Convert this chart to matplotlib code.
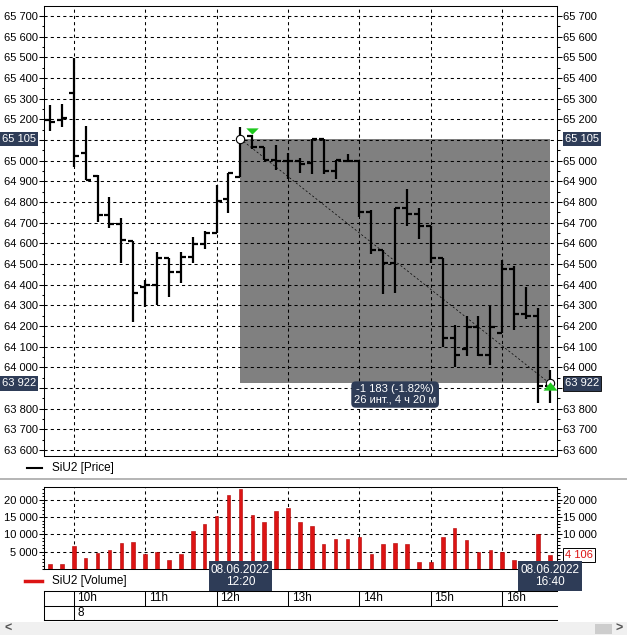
import matplotlib
matplotlib.use("Agg")
import matplotlib.pyplot as plt
from matplotlib.ticker import FixedLocator, MultipleLocator, FuncFormatter
from matplotlib.transforms import blended_transform_factory as blend
from matplotlib.patches import Rectangle
from matplotlib.path import Path

plt.rcParams['font.family'] = ['Liberation Sans', 'DejaVu Sans']
plt.rcParams['font.size'] = 8

# ---------------- data (10-minute bars, SiU2) ----------------
bar_open = [65197, 65197, 65326, 65039, 64927, 64735, 64694, 64611, 64390, 64397,
            64529, 64463, 64535, 64597, 64652, 64813, 64920, 65121, 65065, 65003,
            65000, 65000, 64987, 65103, 64952, 65000, 65000, 64753, 64568, 64503,
            64769, 64742, 64684, 64529, 64140, 64087, 64197, 64060, 64165, 64474,
            64256, 64248, 63910]
bar_high = [65269, 65274, 65495, 65169, 64932, 64826, 64721, 64611, 64423, 64556,
            64529, 64556, 64629, 64661, 64882, 64939, 65161, 65124, 65065, 65076,
            65035, 65011, 65103, 65103, 65003, 65032, 65003, 64761, 64568, 64769,
            64861, 64769, 64684, 64529, 64205, 64250, 64250, 64300, 64519, 64490,
            64390, 64286, 63987]
bar_low = [65145, 65161, 64968, 64905, 64705, 64673, 64506, 64221, 64294, 64302,
           64342, 64410, 64506, 64571, 64652, 64748, 64920, 65055, 65003, 64955,
           64910, 64939, 64935, 64935, 64910, 65000, 64729, 64550, 64355, 64360,
           64684, 64622, 64503, 64100, 64003, 64055, 64055, 64011, 64165, 64180,
           64232, 63826, 63826]
bar_close = [65185, 65208, 65023, 64905, 64739, 64694, 64615, 64361, 64397, 64529,
             64463, 64535, 64597, 64652, 64805, 64939, 65105, 65065, 65003, 65000,
             65000, 64984, 65103, 64952, 65003, 65000, 64753, 64568, 64503, 64769,
             64742, 64684, 64529, 64140, 64058, 64197, 64060, 64197, 64474, 64256,
             64248, 63910, 63922]
volume = [1540, 1540, 6650, 3180, 4720, 5490, 7610, 7900, 4340, 4910,
          2700, 4430, 10980, 13000, 15320, 21390, 23220, 15610, 13680, 16760,
          17530, 13580, 12520, 7130, 8770, 8770, 9350, 4430, 7130, 7610,
          7320, 2120, 2120, 9150, 11750, 8480, 4820, 5590, 5010, 2600,
          2120, 10020, 4106]

hour_labels = ['10h', '11h', '12h', '13h', '14h', '15h', '16h']
hour_index = [2, 8, 14, 20, 26, 32, 38]
day_labels = ['8']
day_index = [2]
bar_times = {16: '08.06.2022\n12:20', 42: '08.06.2022\n16:40'}
sel_start, sel_end = 16, 42
bar_minutes = 10

# ---------------- layout ----------------
W, H = 627, 635
fig = plt.figure(figsize=(W / 100, H / 100), dpi=100)
fig.patch.set_facecolor('white')


def rect(x0, y0, x1, y1):
    return [x0 / W, 1 - y1 / H, (x1 - x0) / W, (y1 - y0) / H]


def fmt(v):
    return f"{int(round(v)):,}".replace(",", " ")


NAVY = '#2e3c57'
RED = '#dc1414'
GREEN = '#1ec81e'
n = len(bar_open)
xs = list(range(n))
XLIM = (-0.5, 42.6)
grid_kw = dict(color='black', linestyle=(0, (3, 3)), linewidth=0.75)

p0 = bar_close[sel_start]
p1 = bar_close[sel_end]

# ---------------- price panel ----------------
ax1 = fig.add_axes(rect(44, 6, 557, 456))
ax1.set_xlim(*XLIM)
ax1.set_ylim(63571, 65748)
ax1.yaxis.set_major_locator(MultipleLocator(100))
ax1.yaxis.set_minor_locator(MultipleLocator(50))
ax1.yaxis.set_major_formatter(FuncFormatter(
    lambda v, p: '' if min(abs(v - p0), abs(v - p1)) < 30 else fmt(v)))
ax1.xaxis.set_major_locator(FixedLocator(hour_index))
ax1.tick_params(axis='x', length=0, labelbottom=False)
ax1.tick_params(axis='y', which='major', direction='out', length=3.6, width=0.75,
                left=True, right=True, labelleft=True, labelright=True, pad=0.8,
                labelsize=8)
ax1.tick_params(axis='y', which='minor', direction='out', length=1.8, width=0.75,
                left=True, right=True)
ax1.grid(True, which='major', **grid_kw)
for s in ax1.spines.values():
    s.set_linewidth(0.75)

# selection rectangle
ax1.add_patch(Rectangle((sel_start, p1), sel_end - sel_start, p0 - p1,
                        facecolor='#808080', edgecolor='none', zorder=1))
ax1.plot([sel_start, sel_end], [p0, p1], color='black', lw=0.5,
         linestyle=(0, (3, 3)), zorder=2.5)

# OHLC bars
tick = 0.42
ax1.vlines(xs, bar_low, bar_high, color='black', lw=1.6, zorder=3)
ax1.hlines(bar_open, [x - tick for x in xs], xs, color='black', lw=1.6, zorder=3)
ax1.hlines(bar_close, xs, [x + tick for x in xs], color='black', lw=1.6, zorder=3)

# markers
flat_down = Path([(-1, 0.5), (1, 0.5), (0, -0.5), (-1, 0.5)])
flat_up = Path([(-1, -0.6), (1, -0.6), (0, 0.6), (-1, -0.6)])
ax1.plot([sel_start], [p0], marker='o', ms=6, mfc='white', mec='black', mew=0.8, zorder=5)
ax1.plot([sel_end], [p1], marker='o', ms=6, mfc='white', mec='black', mew=0.8, zorder=5)
ax1.plot([sel_start + 1], [bar_high[sel_start + 1] + 20], marker=flat_down, ms=9,
         color=GREEN, mew=0, zorder=6)
ax1.plot([sel_end], [p1 - 12], marker=flat_up, ms=10, color=GREEN, mew=0, zorder=6)

# price tags on axes
bl = blend(ax1.transAxes, ax1.transData)
for p in (p0, p1):
    ax1.text(-8 / 513, p, fmt(p), transform=bl, ha='right', va='center', color='white',
             fontsize=8, bbox=dict(boxstyle='square,pad=0.2', fc=NAVY, ec='none'),
             clip_on=False, zorder=10)
ax1.text(1 + 8 / 513, p0, fmt(p0), transform=bl, ha='left', va='center', color='white',
         fontsize=8, bbox=dict(boxstyle='square,pad=0.2', fc=NAVY, ec='none'),
         clip_on=False, zorder=10)
ax1.text(1 + 8 / 513, p1, fmt(p1), transform=bl, ha='left', va='center', color='white',
         fontsize=8, bbox=dict(boxstyle='square,pad=0.2', fc=NAVY, ec='black', lw=0.6),
         clip_on=False, zorder=10)

# selection info tooltip
chg = p1 - p0
pct = chg / p0 * 100
nb = sel_end - sel_start
mins = nb * bar_minutes
info = f"{fmt(chg)} ({pct:.2f}%)\n{nb} инт., {mins // 60} ч {mins % 60} м"
ax1.annotate(info, xy=((sel_start + sel_end) / 2, p1), xytext=(0, -8),
             textcoords='offset points', ha='center', va='center', color='white',
             fontsize=8, linespacing=1.1, zorder=10,
             bbox=dict(boxstyle='round,pad=0.25,rounding_size=0.4', fc=NAVY, ec='none'))

# ---------------- volume panel ----------------
ax2 = fig.add_axes(rect(44, 486.7, 557, 569))
ax2.set_xlim(*XLIM)
ax2.set_ylim(0, 23786)
ax2.yaxis.set_major_locator(FixedLocator([5000, 10000, 15000, 20000]))
ax2.yaxis.set_minor_locator(MultipleLocator(1000))
ax2.yaxis.set_major_formatter(FuncFormatter(lambda v, p: fmt(v)))
ax2.xaxis.set_major_locator(FixedLocator(hour_index))
ax2.tick_params(axis='x', length=0, labelbottom=False)
ax2.tick_params(axis='y', which='major', direction='out', length=3.6, width=0.75,
                left=True, right=True, labelleft=True, labelright=True, pad=0.8,
                labelsize=8)
ax2.tick_params(axis='y', which='minor', direction='out', length=1.8, width=0.75,
                left=True, right=True)
ax2.grid(True, which='major', **grid_kw)
for s in ax2.spines.values():
    s.set_linewidth(0.75)
ax2.bar(xs, volume, width=0.3, color=RED, edgecolor='#b00000', linewidth=0.4, zorder=3)
fig.canvas.draw()
for t, v in zip(ax2.yaxis.get_major_ticks(), ax2.get_yticks()):
    if abs(v - volume[-1]) < 1500:
        t.label2.set_visible(False)
ax2.text(1 + 8 / 513, volume[-1], fmt(volume[-1]), transform=blend(ax2.transAxes, ax2.transData),
         ha='left', va='center', color=RED, fontsize=8,
         bbox=dict(boxstyle='square,pad=0.2', fc='white', ec='black', lw=0.7), clip_on=False)

# ---------------- time table ----------------
ax3 = fig.add_axes(rect(44, 590.7, 557, 620.3))
ax3.set_xlim(*XLIM)
ax3.set_ylim(2, 0)
ax3.axis('off')
for yy in (0, 1, 2):
    ax3.plot([0, 1], [yy, yy], transform=blend(ax3.transAxes, ax3.transData),
             color='black', lw=0.75, clip_on=False)
ax3.plot([0, 0], [0, 2], transform=blend(ax3.transAxes, ax3.transData),
         color='black', lw=0.75, clip_on=False)
ax3.vlines(hour_index, 0, 1, color='black', lw=0.75)
ax3.vlines(day_index, 1, 2, color='black', lw=0.75)
for hx, lab in zip(hour_index, hour_labels):
    ax3.text(hx + 0.3, 0.5, lab, ha='left', va='center', fontsize=8.5)
for dx, lab in zip(day_index, day_labels):
    ax3.text(dx + 0.3, 1.5, lab, ha='left', va='center', fontsize=8.5)

# ---------------- overlay (pixel coords) ----------------
ov = fig.add_axes([0, 0, 1, 1])
ov.set_xlim(0, W)
ov.set_ylim(H, 0)
ov.axis('off')
ov.patch.set_visible(False)
ov.set_zorder(10)
ov.plot([27, 42], [468, 468], color='black', lw=1.5)
ov.text(52, 468, 'SiU2 [Price]', va='center', ha='left', fontsize=8.5)
ov.plot([0, W], [479, 479], color='#a8a8a8', lw=1.2)
ov.plot([25, 42], [581, 581], color=RED, lw=2.5)
ov.text(52, 581, 'SiU2 [Volume]', va='center', ha='left', fontsize=8.5)
ov.add_patch(Rectangle((0, 622), W, 13, fc='#f0f0f0', ec='none'))
ov.add_patch(Rectangle((595, 623.5), 17, 10, fc='#cdcdcd', ec='none'))
ov.text(8, 628.5, '<', ha='center', va='center', fontsize=9, color='#555555', fontweight='bold')
ov.text(619, 628.5, '>', ha='center', va='center', fontsize=9, color='#555555', fontweight='bold')

bx = blend(ax2.transData, ov.transData)
for idx, lab in bar_times.items():
    ov.text(idx, 576, lab, transform=bx, ha='center', va='center', color='white',
            fontsize=8.5, linespacing=1.05,
            bbox=dict(boxstyle='square,pad=0.2', fc=NAVY, ec='none'))

fig.savefig('out.png', dpi=100, facecolor='white')
